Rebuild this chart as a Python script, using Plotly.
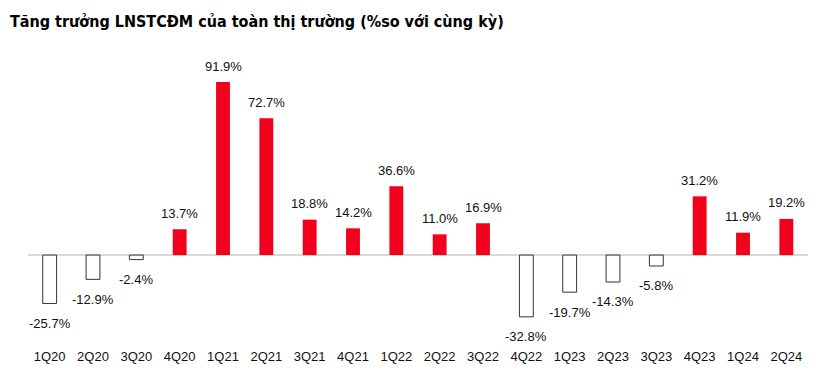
import plotly.graph_objects as go

categories = ["1Q20","2Q20","3Q20","4Q20","1Q21","2Q21","3Q21","4Q21","1Q22","2Q22","3Q22",
              "4Q22","1Q23","2Q23","3Q23","4Q23","1Q24","2Q24"]
growth = [-25.7,-12.9,-2.4,13.7,91.9,72.7,18.8,14.2,36.6,11.0,16.9,
          -32.8,-19.7,-14.3,-5.8,31.2,11.9,19.2]
title_text = "Tăng trưởng LNSTCĐM của toàn thị trường (%so với cùng kỳ)"

RED = "#F2001C"
fills = [RED if v >= 0 else "white" for v in growth]
lines = [RED if v >= 0 else "#333333" for v in growth]
widths = [0 if v >= 0 else 1 for v in growth]

fig = go.Figure(go.Bar(
    x=categories, y=growth,
    marker=dict(color=fills, line=dict(color=lines, width=widths)),
    width=0.32,
))

annotations = []
for c, v in zip(categories, growth):
    annotations.append(dict(
        x=c, y=v, text=f"{v:.1f}%", showarrow=False,
        yanchor="middle", yshift=(16 if v >= 0 else -20),
        font=dict(family="Liberation Sans, Arial, sans-serif", size=13, color="#111111"),
    ))

W, H = 826, 372
fig.update_layout(
    width=W, height=H,
    margin=dict(l=20, r=26, t=52, b=37),
    plot_bgcolor="white", paper_bgcolor="white",
    showlegend=False,
    title=dict(text="<b>" + title_text + "</b>", x=2 / W, xanchor="left", y=1 - 13 / H, yanchor="middle",
               font=dict(family="DejaVu Sans Condensed, Liberation Sans, sans-serif", size=16, color="#000000")),
    xaxis=dict(range=[-0.5, 17.5], showline=False, showgrid=False, ticks="",
               ticklabelstandoff=4,
               tickfont=dict(family="Liberation Sans, Arial, sans-serif", size=13, color="#111111")),
    yaxis=dict(range=[-46.7, 103.6], showgrid=False, showticklabels=False, zeroline=True,
               zerolinecolor="#D9D9D9", zerolinewidth=1.5),
    annotations=annotations,
)

fig.write_html("out.html")
